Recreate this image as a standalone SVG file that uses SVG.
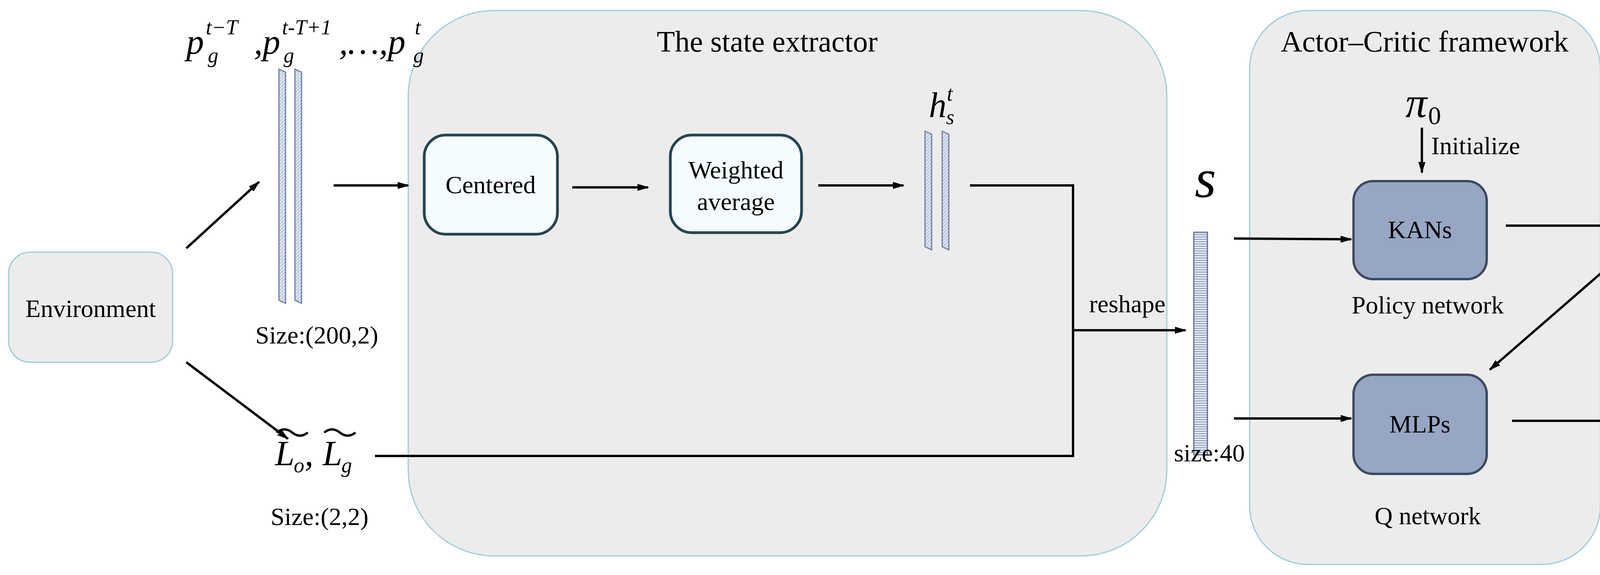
<svg xmlns="http://www.w3.org/2000/svg" width="4277" height="1473" viewBox="0 0 4277 1473">
<style>
text{font-family:"Liberation Serif","Times New Roman",serif;fill:#000}
.t{font-size:64px}
.it{font-style:italic}
.grp{fill:#ececec;stroke:#9ccbdc;stroke-width:3}
.box{fill:#f5fcfd;stroke:#264450;stroke-width:7}
.dbox{fill:#97a6c3;stroke:#3c4a60;stroke-width:6}
.ln{stroke:#000;stroke-width:6;fill:none}
.ar{stroke:#000;stroke-width:6;fill:none;marker-end:url(#ah)}
.bar{fill:url(#diag);stroke:#6d7fa3;stroke-width:3}
</style>
<defs>
<marker id="ah" markerWidth="5" markerHeight="5" refX="4.5" refY="2.5" orient="auto" markerUnits="strokeWidth"><path d="M0,1 L5,2.5 L0,4 Z" fill="#000"/></marker>
<pattern id="diag" width="6" height="6" patternUnits="userSpaceOnUse" patternTransform="rotate(45)"><rect width="6" height="6" fill="#dfe6f2"/><line x1="0" y1="0" x2="0" y2="6" stroke="#7e90b4" stroke-width="2"/></pattern>
<pattern id="hor" width="8" height="6" patternUnits="userSpaceOnUse"><rect width="8" height="6" fill="#e6ecf6"/><line x1="0" y1="1" x2="8" y2="1" stroke="#7e90b4" stroke-width="2"/></pattern>
</defs>
<rect width="4277" height="1473" fill="#fff"/>
<g id="state-extractor"><rect class="grp" x="1045" y="27" width="1942" height="1397" rx="220"/><text x="1964" y="132" font-size="76" text-anchor="middle">The state extractor</text></g>
<g id="actor-critic"><rect class="grp" x="3199" y="27" width="898" height="1419" rx="150"/><text x="3647" y="132" font-size="76" text-anchor="middle">Actor–Critic framework</text></g>
<g id="environment"><rect class="grp" x="22" y="646" width="420" height="282" rx="55"/><text class="t" x="232" y="812" text-anchor="middle">Environment</text></g>
<g id="price-input">
<text x="477" y="138" font-size="90" class="it">p</text><text x="527" y="88" font-size="54" class="it">t−T</text><text x="532" y="160" font-size="54" class="it">g</text>
<text x="650" y="138" font-size="90" class="it">,p</text><text x="722" y="88" font-size="54" class="it">t-T+1</text><text x="726" y="160" font-size="54" class="it">g</text>
<text x="868" y="138" font-size="90" class="it">,…,p</text><text x="1062" y="88" font-size="54" class="it">t</text><text x="1058" y="160" font-size="54" class="it">g</text>
<polygon class="bar" points="714,177 731,185 731,777 714,769"/>
<polygon class="bar" points="755,177 772,185 772,777 755,769"/>
<text class="t" x="811" y="880" text-anchor="middle">Size:(200,2)</text>
</g>
<g id="l-input">
<text x="704" y="1192" font-size="90" class="it">L</text><text x="752" y="1210" font-size="54" class="it">o</text>
<text x="780" y="1192" font-size="90" class="it">,</text><text x="826" y="1192" font-size="90" class="it">L</text><text x="874" y="1210" font-size="54" class="it">g</text>
<path d="M708,1108 q20,-16 40,0 q20,16 40,0 M830,1108 q20,-16 40,0 q20,16 40,0" class="ln" stroke-width="4"/>
<text class="t" x="818" y="1345" text-anchor="middle">Size:(2,2)</text>
</g>
<g id="centered"><rect class="box" x="1086" y="346" width="341" height="254" rx="55"/><text class="t" x="1256" y="495" text-anchor="middle">Centered</text></g>
<g id="weighted-average"><rect class="box" x="1716" y="346" width="336" height="250" rx="55"/><text class="t" x="1884" y="457" text-anchor="middle">Weighted</text><text class="t" x="1884" y="538" text-anchor="middle">average</text></g>
<g id="h-feature">
<text x="2378" y="300" font-size="90" class="it">h</text><text x="2424" y="258" font-size="54" class="it">t</text><text x="2422" y="318" font-size="54" class="it">s</text>
<polygon class="bar" points="2368,336 2385,344 2385,640 2368,632"/>
<polygon class="bar" points="2412,336 2429,344 2429,640 2412,632"/>
</g>
<g id="s-vector">
<text x="3086" y="505" font-size="140" class="it" text-anchor="middle">s</text>
<rect x="3056" y="595" width="35" height="570" fill="url(#hor)" stroke="#5b6d92" stroke-width="3"/>
<text class="t" x="3096" y="1182" text-anchor="middle">size:40</text>
</g>
<g id="kans"><rect class="dbox" x="3465" y="464" width="341" height="251" rx="50"/><text class="t" x="3635" y="610" text-anchor="middle">KANs</text><text class="t" x="3655" y="803" text-anchor="middle">Policy network</text></g>
<g id="mlps"><rect class="dbox" x="3465" y="960" width="341" height="254" rx="50"/><text class="t" x="3635" y="1108" text-anchor="middle">MLPs</text><text class="t" x="3655" y="1343" text-anchor="middle">Q network</text></g>
<g id="pi0"><text x="3598" y="300" font-size="110" class="it">π</text><text x="3656" y="318" font-size="66">0</text><text class="t" x="3664" y="395">Initialize</text></g>
<g id="a-out"><text x="4225" y="615" font-size="140" class="it" text-anchor="middle">a</text></g>
<g id="q-out"><text x="4232" y="1112" font-size="110" class="it" text-anchor="middle">Q</text></g>
<g id="connectors">
<line class="ar" x1="477" y1="636" x2="663" y2="466"/>
<line class="ar" x1="477" y1="928" x2="737" y2="1124"/>
<line class="ar" x1="854" y1="475" x2="1045" y2="475"/>
<line class="ar" x1="1465" y1="480" x2="1659" y2="480"/>
<line class="ar" x1="2095" y1="475" x2="2313" y2="475"/>
<polyline class="ln" points="2483,475 2747,475 2747,1168 960,1168"/>
<line class="ar" x1="2747" y1="846" x2="3035" y2="846"/>
<text class="t" x="2886" y="800" text-anchor="middle">reshape</text>
<line class="ar" x1="3159" y1="611" x2="3459" y2="613"/>
<line class="ar" x1="3159" y1="1072" x2="3459" y2="1072"/>
<line class="ar" x1="3640" y1="327" x2="3640" y2="442"/>
<line class="ar" x1="3855" y1="578" x2="4160" y2="578"/>
<line class="ar" x1="4157" y1="649" x2="3814" y2="947"/>
<line class="ar" x1="3871" y1="1078" x2="4200" y2="1078"/>
</g>
</svg>
